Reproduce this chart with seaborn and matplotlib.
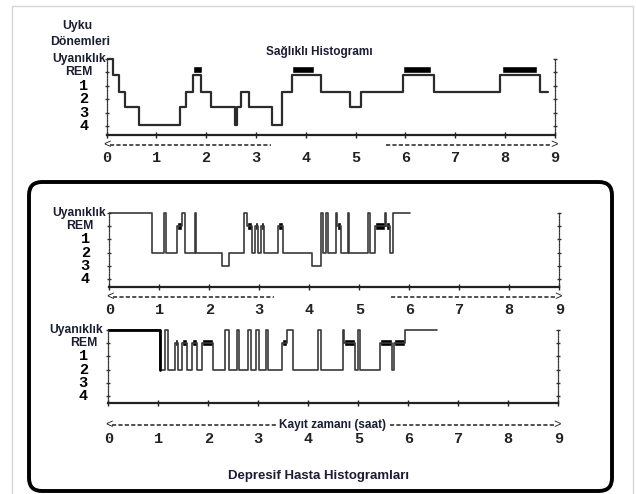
import numpy as np
import pandas as pd
import seaborn as sns
import matplotlib.pyplot as plt
from matplotlib.patches import FancyBboxPatch, Rectangle
from matplotlib.transforms import Affine2D, offset_copy

# stage code = row on the y axis (Uyanıklık on top, 4 at the bottom)
W, REM, S2, S3 = 0, 1, 3, 4

stage_labels = ['Uyanıklık', 'REM', '1', '2', '3', '4']
hours = list(range(10))
hour_labels = [str(h) for h in hours]

# healthy night: levels
# (its trace sits a little off the tick marks in the source)
healthy_t = [0, 0.14, 0.25, 0.37, 0.66, 1.48, 1.60, 1.73, 1.89, 2.09, 2.58, 2.63,
             2.71, 2.86, 3.32, 3.52, 3.72, 4.30, 4.88, 5.12, 5.96, 6.58, 7.90, 8.70, 8.87]
healthy_level = [0, 1.2, 2.5, 3.6, 4.9, 3.6, 2.5, 1.2, 2.5, 3.6, 4.9, 3.6,
                 2.5, 3.6, 4.9, 2.5, 1.2, 2.5, 3.6, 2.5, 1.2, 2.5, 1.2, 2.5]
healthy_rem_start = [1.74, 3.72, 5.96, 7.94]
healthy_rem_end = [1.92, 4.17, 6.51, 8.64]

# depressed patient 1
dep1_t = [0, 0.85, 1.10, 1.13, 1.36, 1.45, 1.51, 1.71, 1.73, 2.25, 2.40, 2.70,
          2.75, 2.85, 2.91, 2.98, 3.03, 3.09, 3.38, 3.47, 4.05, 4.24, 4.28, 4.34,
          4.37, 4.54, 4.56, 4.64, 4.77, 4.79, 5.17, 5.22, 5.31, 5.51, 5.54, 5.61,
          5.68, 6.01]
dep1_stage = [W, S2, W, S2, REM, W, S2, W, S2, S3, S2, W,
              REM, S2, REM, S2, REM, S2, REM, S2, S3, W, S2, W,
              S2, W, REM, S2, W, S2, W, S2, REM, W, REM, S2,
              W]

# depressed patient 2
dep2_t = [0, 1.03, 1.13, 1.20, 1.33, 1.40, 1.47, 1.58, 1.67, 1.77, 1.87, 2.10,
          2.34, 2.42, 2.57, 2.62, 2.79, 2.85, 2.95, 3.01, 3.15, 3.20, 3.47, 3.57,
          3.70, 4.19, 4.26, 4.70, 4.72, 4.93, 5.00, 5.03, 5.43, 5.67, 5.71, 5.93,
          6.57]
dep2_stage = [W, S2, W, S2, REM, S2, REM, S2, REM, S2, REM, S2,
              W, S2, W, S2, W, S2, W, S2, W, S2, REM, W,
              S2, W, S2, W, REM, S2, W, S2, REM, S2, REM, W]

W_PX, H_PX = 636, 494
TXT = '#1a1d33'
MONO = 'Liberation Mono'

sns.set_style('white')
plt.rcParams['font.family'] = ['Liberation Sans', 'DejaVu Sans']
plt.rcParams['lines.scale_dashes'] = False

fig = plt.figure(figsize=(W_PX / 100, H_PX / 100), dpi=100)
# pixel coordinates measured from the top-left corner
px = Affine2D().scale(1 / W_PX, -1 / H_PX).translate(0, 1) + fig.transFigure


def steps_df(t, s):
    return pd.DataFrame({'saat': t, 'evre': list(s) + [s[-1]]})


def make_panel(x0, x9, wake_y, step, axis_lvl, pad):
    top_y = wake_y - 0.5 * step
    bot_y = wake_y + axis_lvl * step
    ax = fig.add_axes([x0 / W_PX, 1 - bot_y / H_PX, (x9 - x0) / W_PX, (bot_y - top_y) / H_PX])
    ax.set_xlim(0, 9)
    ax.set_ylim(axis_lvl, -0.5)
    ax.patch.set_alpha(0)
    ax.spines['top'].set_visible(False)
    ax.spines['bottom'].set_linewidth(1.6)
    ax.spines['bottom'].set_color('#222222')
    for side in ['left', 'right']:
        ax.spines[side].set_visible(True)
        ax.spines[side].set_bounds(0, axis_lvl)
        ax.spines[side].set_linestyle((0, (1, 1)))
        ax.spines[side].set_linewidth(0.9)
        ax.spines[side].set_color('#333333')
    ax.set_xticks(hours)
    ax.set_xticklabels(hour_labels, fontfamily=MONO, fontweight='bold', fontsize=11)
    ax.tick_params(axis='x', direction='inout', length=5, width=1, pad=pad,
                   bottom=True, colors='#222222')
    ax.set_yticks(range(6))
    ax.set_yticklabels([])
    ax.tick_params(axis='y', direction='inout', length=3.5, width=1, left=True,
                   right=True, colors='#333333')
    return ax


def stage_names(ax, dx_word, dx_rem, dx_num):
    for i, lab in enumerate(stage_labels):
        if i == 0:
            dx, fam, size, col = dx_word, None, 8.7, TXT
        elif i == 1:
            dx, fam, size, col = dx_rem, None, 8.8, TXT
        else:
            dx, fam, size, col = dx_num, MONO, 11, 'black'
        kw = dict(fontfamily=fam) if fam else {}
        ax.annotate(lab, xy=(0, i), xycoords=('axes fraction', 'data'),
                    xytext=(-dx, 0), textcoords='offset pixels', ha='center',
                    va='center', fontsize=size, fontweight='bold', color=col,
                    annotation_clip=False, **kw)


def time_arrow(ax, off, left_end, right_start, text=None, text_x=None):
    tr = offset_copy(ax.get_xaxis_transform(), fig=fig, y=-off, units='dots')
    dash = dict(ls=(0, (3, 1.6)), lw=1.1, color='#222222', clip_on=False, transform=tr)
    ax.plot([0.07, left_end], [0, 0], **dash)
    ax.plot([right_start, 8.93], [0, 0], **dash)
    ax.text(0.02, 0, '<', transform=tr, ha='center', va='center',
            fontfamily=MONO, fontsize=9, color='#222222')
    ax.text(8.98, 0, '>', transform=tr, ha='center', va='center',
            fontfamily=MONO, fontsize=9, color='#222222')
    if text:
        ax.text(text_x, 0, text, transform=tr, ha='center', va='center',
                fontsize=8.5, fontweight='bold', color=TXT)


def finish(ax):
    ax.set_xlabel('')
    ax.set_ylabel('')


# outer light frame and the rounded box around the patient charts
fig.add_artist(Rectangle((12, 6), 621, 500, transform=px, fill=False,
                         ec='#d6d6d6', lw=1, clip_on=False))
fig.add_artist(FancyBboxPatch((29, 182), 583, 309, transform=px,
                              boxstyle='round,pad=0,rounding_size=13',
                              fill=False, ec='black', lw=2.8))

# --- healthy ---
ax1 = make_panel(106.5, 554.7, 59, 13.4, 5.7, 9)
sns.lineplot(data=steps_df(healthy_t, healthy_level), x='saat', y='evre',
             drawstyle='steps-post', estimator=None, sort=False,
             color='#2b2b2b', lw=1.6, ax=ax1)
ax1.bar(healthy_rem_start, 0.5, width=np.subtract(healthy_rem_end, healthy_rem_start),
        bottom=0.55, align='edge', color='black')
finish(ax1)
stage_names(ax1, 27.5, 27.5, 22.5)
time_arrow(ax1, 10, 3.3, 5.61)
fig.text(77 / W_PX, 1 - 26 / H_PX, 'Uyku', ha='center', va='center',
         fontsize=8.8, fontweight='bold', color=TXT)
fig.text(80 / W_PX, 1 - 42 / H_PX, 'Dönemleri', ha='center', va='center',
         fontsize=8.8, fontweight='bold', color=TXT)
fig.text(319 / W_PX, 1 - 52 / H_PX, 'Sağlıklı Histogramı', ha='center', va='center',
         fontsize=8.5, fontweight='bold', color=TXT)

# --- depressed 1 ---
ax2 = make_panel(109.3, 559.3, 213, 13.2, 5.6, 9.4)
d1 = steps_df(dep1_t, dep1_stage)
sns.lineplot(data=d1, x='saat', y='evre', drawstyle='steps-post', estimator=None,
             sort=False, color='#3a3a3a', lw=1.2, ax=ax2)
rem1 = [i for i, s in enumerate(dep1_stage) if s == REM]
ax2.bar([dep1_t[i] for i in rem1], 0.6,
        width=[dep1_t[i + 1] - dep1_t[i] for i in rem1],
        bottom=0.7, align='edge', color='black')
finish(ax2)
stage_names(ax2, 30, 29, 24)
time_arrow(ax2, 10, 3.3, 5.63)

# --- depressed 2 ---
ax3 = make_panel(108.3, 558.3, 330, 13.2, 5.5, 18.7)
d2 = steps_df(dep2_t, dep2_stage)
sns.lineplot(data=d2, x='saat', y='evre', drawstyle='steps-post', estimator=None,
             sort=False, color='#3a3a3a', lw=1.2, ax=ax3)
# the first waking stretch is drawn heavier in the source
sns.lineplot(data=d2.iloc[:2], x='saat', y='evre', drawstyle='steps-post',
             estimator=None, sort=False, color='black', lw=2, ax=ax3)
rem2 = [i for i, s in enumerate(dep2_stage) if s == REM]
ax3.bar([dep2_t[i] for i in rem2], 0.6,
        width=[dep2_t[i + 1] - dep2_t[i] for i in rem2],
        bottom=0.65, align='edge', color='black')
finish(ax3)
stage_names(ax3, 32, 24, 25)
time_arrow(ax3, 22, 3.37, 5.63, 'Kayıt zamanı (saat)', 4.49)

fig.text(318 / W_PX, 1 - 476 / H_PX, 'Depresif Hasta Histogramları', ha='center',
         va='center', fontsize=9.5, fontweight='bold', color=TXT)

fig.savefig('out.png', dpi=100)
